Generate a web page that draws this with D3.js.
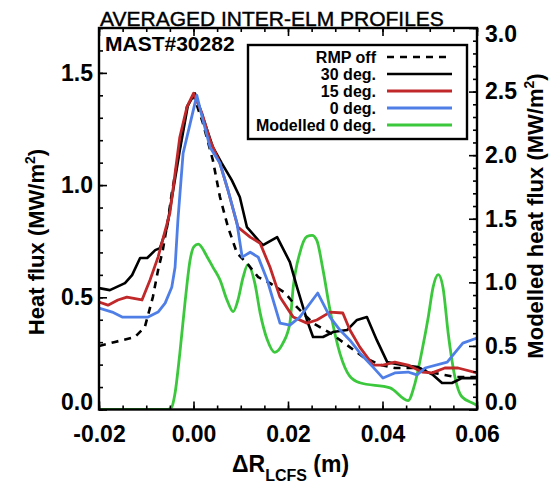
<!DOCTYPE html>
<html>
<head>
<meta charset="utf-8">
<script src="https://cdn.jsdelivr.net/npm/d3@7"></script>
<style>
body { margin: 0; background: #fff; }
text { font-family: "Liberation Sans", Arial, Helvetica, sans-serif; }
</style>
</head>
<body>
<div id="chart"></div>
<script>
// values: [delta R (m), heat flux]
const rmpOff = [[-0.0200,0.283],[-0.0166,0.301],[-0.0124,0.323],[-0.0103,0.367],[-0.0086,0.501],[-0.0075,0.621],[-0.0065,0.710],[-0.0054,0.844],[-0.0046,0.964],[-0.0014,1.347],[0.0000,1.400],[0.0020,1.276],[0.0041,1.111],[0.0056,0.947],[0.0073,0.813],[0.0092,0.697],[0.0113,0.652],[0.0137,0.590],[0.0162,0.563],[0.0194,0.519],[0.0219,0.456],[0.0253,0.385],[0.0289,0.341],[0.0325,0.287],[0.0359,0.234],[0.0395,0.199],[0.0426,0.185],[0.0475,0.185],[0.0511,0.162],[0.0554,0.145],[0.0600,0.145]]
const deg30 = [[-0.0200,0.541],[-0.0177,0.532],[-0.0145,0.563],[-0.0130,0.599],[-0.0113,0.675],[-0.0098,0.675],[-0.0081,0.710],[-0.0071,0.719],[-0.0056,0.813],[-0.0029,1.155],[-0.0012,1.355],[0.0003,1.409],[0.0020,1.302],[0.0041,1.169],[0.0060,1.097],[0.0081,1.022],[0.0098,0.947],[0.0113,0.813],[0.0137,0.755],[0.0147,0.732],[0.0177,0.768],[0.0204,0.657],[0.0219,0.545],[0.0240,0.399],[0.0253,0.323],[0.0274,0.323],[0.0295,0.345],[0.0325,0.354],[0.0346,0.399],[0.0367,0.412],[0.0388,0.309],[0.0410,0.211],[0.0441,0.198],[0.0475,0.189],[0.0507,0.154],[0.0526,0.118],[0.0547,0.118],[0.0568,0.140],[0.0600,0.140]]
const deg15 = [[-0.0200,0.479],[-0.0181,0.465],[-0.0160,0.488],[-0.0141,0.501],[-0.0109,0.488],[-0.0092,0.577],[-0.0075,0.679],[-0.0054,0.844],[-0.0050,0.875],[-0.0029,1.213],[-0.0014,1.347],[0.0000,1.409],[0.0018,1.320],[0.0035,1.200],[0.0056,1.097],[0.0073,0.977],[0.0094,0.813],[0.0120,0.768],[0.0141,0.741],[0.0162,0.634],[0.0183,0.501],[0.0204,0.434],[0.0211,0.412],[0.0240,0.385],[0.0261,0.399],[0.0289,0.434],[0.0316,0.430],[0.0331,0.354],[0.0352,0.278],[0.0380,0.198],[0.0401,0.198],[0.0426,0.211],[0.0454,0.198],[0.0484,0.167],[0.0505,0.163],[0.0532,0.185],[0.0560,0.185],[0.0600,0.163]]
const deg0 = [[-0.0200,0.452],[-0.0172,0.434],[-0.0151,0.412],[-0.0096,0.412],[-0.0075,0.434],[-0.0060,0.474],[-0.0046,0.545],[-0.0039,0.634],[-0.0033,0.844],[-0.0022,1.142],[-0.0007,1.275],[0.0007,1.400],[0.0020,1.289],[0.0035,1.169],[0.0056,1.097],[0.0073,0.977],[0.0092,0.830],[0.0103,0.679],[0.0120,0.701],[0.0137,0.679],[0.0156,0.577],[0.0183,0.385],[0.0204,0.376],[0.0225,0.412],[0.0263,0.519],[0.0289,0.412],[0.0310,0.354],[0.0331,0.309],[0.0352,0.252],[0.0380,0.189],[0.0401,0.140],[0.0426,0.163],[0.0454,0.167],[0.0473,0.154],[0.0490,0.185],[0.0537,0.211],[0.0553,0.252],[0.0570,0.296],[0.0600,0.318]]
// modelled, on the right axis
const modelled0 = [[-0.0200,0],[-0.0054,0],[-0.0046,0.02],[-0.0039,0.13],[-0.0029,0.44],[-0.0018,0.84],[-0.0007,1.18],[0.0001,1.28],[0.0010,1.30],[0.0029,1.20],[0.0041,1.12],[0.0056,1.02],[0.0071,0.86],[0.0084,0.77],[0.0094,0.86],[0.0105,1.04],[0.0115,1.14],[0.0130,0.99],[0.0141,0.76],[0.0156,0.55],[0.0172,0.45],[0.0189,0.52],[0.0204,0.68],[0.0211,0.96],[0.0225,1.23],[0.0240,1.36],[0.0251,1.37],[0.0261,1.33],[0.0274,1.10],[0.0289,0.78],[0.0310,0.44],[0.0331,0.26],[0.0352,0.21],[0.0416,0.17],[0.0454,0.07],[0.0469,0.21],[0.0484,0.47],[0.0497,0.73],[0.0507,0.96],[0.0518,1.06],[0.0528,0.96],[0.0539,0.60],[0.0553,0.26],[0.0568,0.10],[0.0596,0.04],[0.0600,0.03]]

const seriesNames = ["RMP off", "30 deg.", "15 deg.", "0 deg.", "Modelled 0 deg."]
const xTicks = [-0.02, 0.00, 0.02, 0.04, 0.06]
const xTickLabels = ["-0.02", "0.00", "0.02", "0.04", "0.06"]
const leftTicks = [0.0, 0.5, 1.0, 1.5]
const rightTicks = [0.0, 0.5, 1.0, 1.5, 2.0, 2.5, 3.0]

const width = 549
const height = 490
const box = {left: 99, right: 477, top: 28, bottom: 409.5}

const svg = d3.select("#chart").append("svg").attr("width", width).attr("height", height)

const x = d3.scaleLinear().domain([-0.02, 0.06]).range([box.left, box.right])
const yL = d3.scaleLinear().domain([0, 1.7]).range([box.bottom, box.top])
const yR = d3.scaleLinear().domain([0, 3]).range([box.bottom, box.top])

svg.append("clipPath").attr("id", "clip").append("rect")
    .attr("x", box.left).attr("y", box.top)
    .attr("width", box.right - box.left).attr("height", box.bottom - box.top)

const styles = [
    {color: "#000", dash: "7,6", width: 2.6},
    {color: "#000", dash: null, width: 2.6},
    {color: "#c0282a", dash: null, width: 2.8},
    {color: "#4f7fe6", dash: null, width: 2.8},
    {color: "#3cc83c", dash: null, width: 2.8}
]

const lineL = d3.line().x(d => x(d[0])).y(d => yL(d[1]))
const lineR = d3.line().x(d => x(d[0])).y(d => yR(d[1])).curve(d3.curveMonotoneX)

const lines = svg.append("g").attr("clip-path", "url(#clip)")
const drawOrder = [
    {data: modelled0, s: 4, gen: lineR},
    {data: rmpOff, s: 0, gen: lineL},
    {data: deg30, s: 1, gen: lineL},
    {data: deg15, s: 2, gen: lineL},
    {data: deg0, s: 3, gen: lineL}
]
drawOrder.forEach(o => {
    lines.append("path")
        .attr("d", o.gen(o.data))
        .attr("fill", "none")
        .attr("stroke", styles[o.s].color)
        .attr("stroke-width", styles[o.s].width)
        .attr("stroke-dasharray", styles[o.s].dash)
        .attr("stroke-linejoin", "round")
})

// axes, ticks pointing inwards
const font = 23
function styleAxis(g) {
    g.select(".domain").remove()
    g.selectAll("line").attr("stroke", "#000").attr("stroke-width", 1.6)
    g.selectAll("text").attr("font-size", font).attr("font-weight", "bold").attr("fill", "#000")
}

const xAxisGroup = svg.append("g").attr("transform", `translate(0, ${box.bottom})`)
    .call(d3.axisBottom(x).tickValues(xTicks).tickFormat((d, i) => xTickLabels[i]).tickSizeInner(-8).tickSizeOuter(0).tickPadding(16))
styleAxis(xAxisGroup)
svg.append("g").attr("transform", `translate(0, ${box.bottom})`)
    .call(d3.axisBottom(x).ticks(16).tickFormat("").tickSizeInner(-4).tickSizeOuter(0)).call(styleAxis)
svg.append("g").attr("transform", `translate(0, ${box.top})`)
    .call(d3.axisTop(x).tickValues(xTicks).tickFormat("").tickSizeInner(-8).tickSizeOuter(0)).call(styleAxis)
svg.append("g").attr("transform", `translate(0, ${box.top})`)
    .call(d3.axisTop(x).ticks(16).tickFormat("").tickSizeInner(-4).tickSizeOuter(0)).call(styleAxis)

const yLGroup = svg.append("g").attr("transform", `translate(${box.left}, 0)`)
    .call(d3.axisLeft(yL).tickValues(leftTicks).tickFormat(d3.format(".1f")).tickSizeInner(-8).tickSizeOuter(0).tickPadding(6))
styleAxis(yLGroup)
svg.append("g").attr("transform", `translate(${box.left}, 0)`)
    .call(d3.axisLeft(yL).ticks(17).tickFormat("").tickSizeInner(-4).tickSizeOuter(0)).call(styleAxis)

const yRGroup = svg.append("g").attr("transform", `translate(${box.right}, 0)`)
    .call(d3.axisRight(yR).tickValues(rightTicks).tickFormat(d3.format(".1f")).tickSizeInner(-8).tickSizeOuter(0).tickPadding(8))
styleAxis(yRGroup)
svg.append("g").attr("transform", `translate(${box.right}, 0)`)
    .call(d3.axisRight(yR).ticks(30).tickFormat("").tickSizeInner(-4).tickSizeOuter(0)).call(styleAxis)

// end labels sit a little inside the frame
yLGroup.selectAll(".tick text").filter(d => d === 0).attr("y", -7)
yRGroup.selectAll(".tick text").filter(d => d === 0).attr("y", -7)
yRGroup.selectAll(".tick text").filter(d => d === 3).attr("y", 6)

// frame
svg.append("rect")
    .attr("x", box.left).attr("y", box.top)
    .attr("width", box.right - box.left).attr("height", box.bottom - box.top)
    .attr("fill", "none").attr("stroke", "#000").attr("stroke-width", 2.4)

// titles
svg.append("text").attr("x", 100).attr("y", 26)
    .attr("font-size", 21).attr("stroke", "#000").attr("stroke-width", 0.4).text("AVERAGED INTER-ELM PROFILES")
svg.append("text").attr("x", 105).attr("y", 51)
    .attr("font-size", 21).attr("font-weight", "bold").text("MAST#30282")

const xLabel = svg.append("text").attr("x", 232).attr("y", 472)
    .attr("font-size", 23).attr("font-weight", "bold")
xLabel.append("tspan").text("ΔR")
xLabel.append("tspan").attr("font-size", 16).attr("dy", 9).text("LCFS")
xLabel.append("tspan").attr("dy", -9).text(" (m)")

const yLabel = svg.append("text")
    .attr("transform", "translate(44, 242) rotate(-90)")
    .attr("text-anchor", "middle").attr("font-size", 22).attr("font-weight", "bold")
yLabel.append("tspan").text("Heat flux (MW/m")
yLabel.append("tspan").attr("font-size", 14).attr("dy", -9).text("2")
yLabel.append("tspan").attr("dy", 9).text(")")

const yRLabel = svg.append("text")
    .attr("transform", "translate(543, 216) rotate(-90)")
    .attr("text-anchor", "middle").attr("font-size", 22).attr("font-weight", "bold")
yRLabel.append("tspan").text("Modelled heat flux (MW/m")
yRLabel.append("tspan").attr("font-size", 14).attr("dy", -9).text("2")
yRLabel.append("tspan").attr("dy", 9).text(")")

// legend
const legend = svg.append("g")
legend.append("rect").attr("x", 248).attr("y", 45).attr("width", 219).attr("height", 94)
    .attr("fill", "#fff").attr("stroke", "#000").attr("stroke-width", 2.4)
const rowY = d3.scaleLinear().domain([0, 4]).range([57, 125])
seriesNames.forEach((name, i) => {
    legend.append("text").attr("x", 376).attr("y", rowY(i) + 6)
        .attr("text-anchor", "end").attr("font-size", 16).attr("font-weight", "bold").text(name)
    legend.append("line").attr("x1", 387).attr("x2", 452).attr("y1", rowY(i)).attr("y2", rowY(i))
        .attr("stroke", styles[i].color).attr("stroke-width", styles[i].width)
        .attr("stroke-dasharray", styles[i].dash)
})
</script>
</body>
</html>
